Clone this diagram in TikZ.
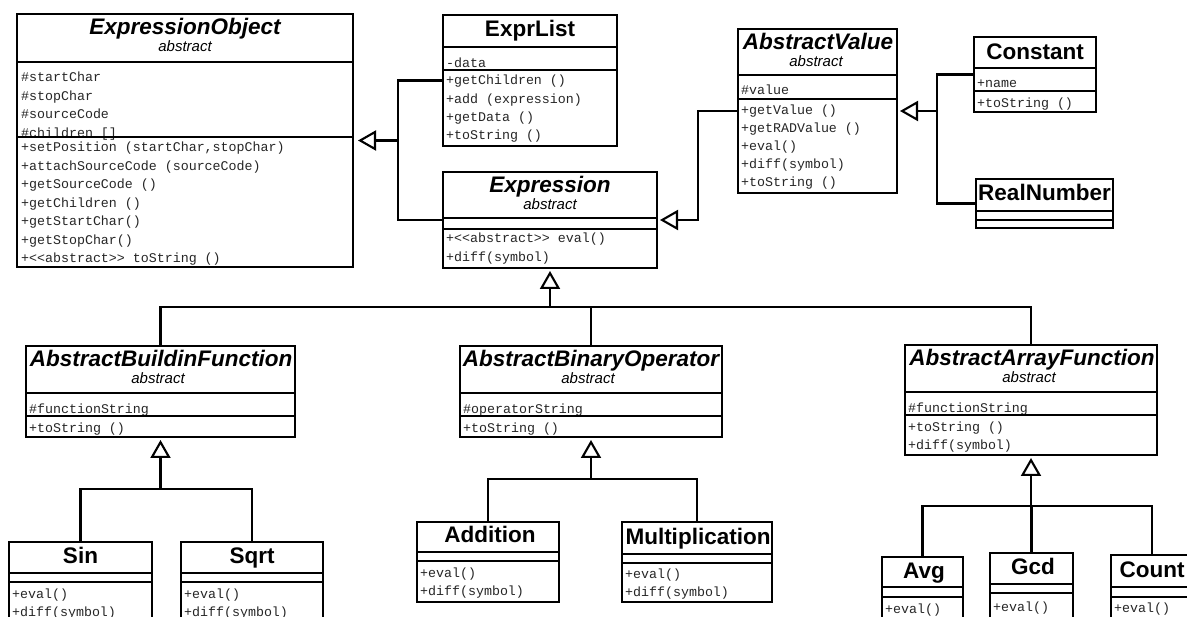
\documentclass[tikz,border=0pt]{standalone}
\usepackage{fontspec}
\usetikzlibrary{arrows.meta}
\newfontfamily\clsfont{Liberation Sans}
\newfontfamily\memfont{Liberation Mono}

\tikzset{
  clsbox/.style={draw, rectangle, line width=2pt, inner sep=0pt, outer sep=0pt},
  rule/.style={line width=2pt},
  cname/.style={font=\clsfont\bfseries\fontsize{22.5}{22.5}\selectfont, anchor=base, inner sep=0pt},
  aname/.style={cname, font=\clsfont\bfseries\itshape\fontsize{22.5}{22.5}\selectfont},
  stereo/.style={font=\clsfont\itshape\fontsize{15}{15}\selectfont, anchor=base, inner sep=0pt},
  member/.style={font=\memfont\fontsize{13.3}{13.3}\selectfont, anchor=base west, inner sep=0pt, text=black!85},
  conn/.style={line width=2.1pt, line join=miter},
  gen/.style={conn, -{Triangle[open, length=18pt, width=20pt]}, shorten >=3pt},
}

% class frame: name, x1, y1, x2, y2, header bottom, attribute bottom
\newcommand\umlframe[7]{%
  \node[clsbox, minimum width={#4pt-#2pt}, minimum height={#5pt-#3pt}, anchor=north west] (#1) at (#2,#3) {};
  \draw[rule] (#2,#6) -- (#4,#6);
  \draw[rule] (#2,#7) -- (#4,#7);
}
% member rows: prefix, x, first baseline, row step, list
\newcommand\umlrows[5]{%
  \foreach \t [count=\i from 0] in {#5} \node[member] (#1\i) at (#2, #3+\i*#4) {\t};
}
\newcommand\ltlt{<\kern0pt<}
\newcommand\gtgt{>\kern0pt>}

\begin{document}
\begin{tikzpicture}[x=1pt, y=-1pt]
\useasboundingbox (0,0) rectangle (1187,617);
\fill[white] (0,0) rectangle (1187,617);
\clip (0,0) rectangle (1187,617);

% ---------- member texts (drawn first, frames go on top) ----------
\umlrows{eo-a}{21}{81.7}{18.5}{\#startChar, \#stopChar, \#sourceCode, \#children []}
\umlrows{eo-m}{21}{152}{18.5}{{+setPosition (startChar,stopChar)}, +attachSourceCode (sourceCode),
  +getSourceCode (), +getChildren (), +getStartChar(), +getStopChar(), +\ltlt abstract\gtgt{} toString ()}

\umlrows{el-a}{446}{68}{18.3}{-data}
\umlrows{el-m}{446}{85}{18.3}{+getChildren (), +add (expression), +getData (), +toString ()}

\umlrows{ex-m}{446}{243}{18.5}{+\ltlt abstract\gtgt{} eval(), +diff(symbol)}

\umlrows{av-a}{741}{95}{17.8}{\#value}
\umlrows{av-m}{741}{115}{17.8}{+getValue (), +getRADValue (), +eval(), +diff(symbol), +toString ()}

\umlrows{co-a}{977}{88}{18}{+name}
\umlrows{co-m}{977}{108}{18}{+toString ()}

\umlrows{abf-a}{29}{414}{18}{\#functionString}
\umlrows{abf-m}{29}{433}{18}{+toString ()}

\umlrows{abo-a}{463}{414}{18}{\#operatorString}
\umlrows{abo-m}{463}{433}{18}{+toString ()}

\umlrows{aaf-a}{908}{413}{18}{\#functionString}
\umlrows{aaf-m}{908}{432}{18}{+toString (), +diff(symbol)}

\umlrows{sin-m}{12}{598}{18.5}{+eval(), +diff(symbol)}
\umlrows{sqrt-m}{184}{598}{18.5}{+eval(), +diff(symbol)}
\umlrows{add-m}{420}{577}{18.5}{+eval(), +diff(symbol)}
\umlrows{mul-m}{625}{578}{18.5}{+eval(), +diff(symbol)}
\umlrows{avg-m}{885}{613}{18.5}{+eval()}
\umlrows{gcd-m}{993}{611}{18.5}{+eval()}
\umlrows{cnt-m}{1114}{612}{18.5}{+eval()}

% ---------- class names ----------
\node[aname] (eo-n) at (185,35) {ExpressionObject};
\node[stereo] (eo-s) at (185,52) {abstract};
\node[cname] (el-n) at (530,37) {ExprList};
\node[aname] (ex-n) at (550,193) {Expression};
\node[stereo] (ex-s) at (550,210) {abstract};
\node[aname] (av-n) at (818,50) {AbstractValue};
\node[stereo] (av-s) at (816,67) {abstract};
\node[cname] (co-n) at (1035,60) {Constant};
\node[cname] (rn-n) at (1044.5,201) {RealNumber};
\node[aname] (abf-n) at (161,367) {AbstractBuildinFunction};
\node[stereo] (abf-s) at (158,384) {abstract};
\node[aname] (abo-n) at (591,367) {AbstractBinaryOperator};
\node[stereo] (abo-s) at (588,384) {abstract};
\node[aname] (aaf-n) at (1032,366) {AbstractArrayFunction};
\node[stereo] (aaf-s) at (1029,383) {abstract};
\node[cname] (sin-n) at (80.5,563) {Sin};
\node[cname] (sqrt-n) at (252,564) {Sqrt};
\node[cname] (add-n) at (490,543) {Addition};
\node[cname] (mul-n) at (698,544) {Multiplication};
\node[cname] (avg-n) at (924,578) {Avg};
\node[cname] (gcd-n) at (1033,575) {Gcd};
\node[cname] (cnt-n) at (1152,577) {Count};

% ---------- class frames ----------
\umlframe{eo}{17}{14}{353}{267}{62}{137}
\umlframe{el}{443}{15}{617}{146}{47}{70}
\umlframe{ex}{443}{172}{657}{268}{218}{229}
\umlframe{av}{738}{29}{897}{193}{75}{99}
\umlframe{co}{974}{37}{1096}{112}{68}{91}
\umlframe{rn}{976}{179}{1113}{228}{211}{220}
\umlframe{abf}{26}{346}{295}{437}{393}{416}
\umlframe{abo}{460}{346}{722}{437}{393}{416}
\umlframe{aaf}{905}{345}{1157}{455}{392}{415}
\umlframe{sin}{9}{542}{152}{640}{573}{582}
\umlframe{sqrt}{181}{542}{323}{640}{573}{582}
\umlframe{add}{417}{522}{559}{602}{552}{561}
\umlframe{mul}{622}{522}{772}{602}{554}{563}
\umlframe{avg}{882}{557}{963}{640}{587}{597}
\umlframe{gcd}{990}{553}{1073}{640}{584}{593}
\umlframe{cnt}{1111}{555}{1193}{640}{587}{597}

% ---------- generalisations ----------
\coordinate (j1) at (398,140.5);
\draw[conn] (el.west) -| (j1);
\draw[conn] (ex.west) -| (j1);
\draw[gen, shorten >=5pt] (j1) -- (eo.east);

\coordinate (j2) at (698,220);
\draw[gen] (av.west) -| (j2) -- (ex.east);

\coordinate (j3) at (937,111);
\draw[conn] (co.west) -| (j3);
\draw[conn] (rn.west) -| (j3);
\draw[gen] (j3) -- (av.east);

\coordinate (b1) at (550,307);
\draw[conn] (abf.north) |- (b1);
\draw[conn] (abo.north) |- (b1);
\draw[conn] (aaf.north) |- (b1);
\draw[gen] (b1) -- (ex.south);

\coordinate (b2) at (160.5,489);
\draw[conn] (sin.north) |- (b2);
\draw[conn] (sqrt.north) |- (b2);
\draw[gen] (b2) -- (abf.south);

\coordinate (b3) at (591,479);
\draw[conn] (add.north) |- (b3);
\draw[conn] (mul.north) |- (b3);
\draw[gen] (b3) -- (abo.south);

\coordinate (b4) at (1031,506);
\draw[conn] (avg.north) |- (b4);
\draw[conn] (gcd.north) |- (b4);
\draw[conn] (cnt.north) |- (b4);
\draw[gen] (b4) -- (aaf.south);
\end{tikzpicture}
\end{document}
